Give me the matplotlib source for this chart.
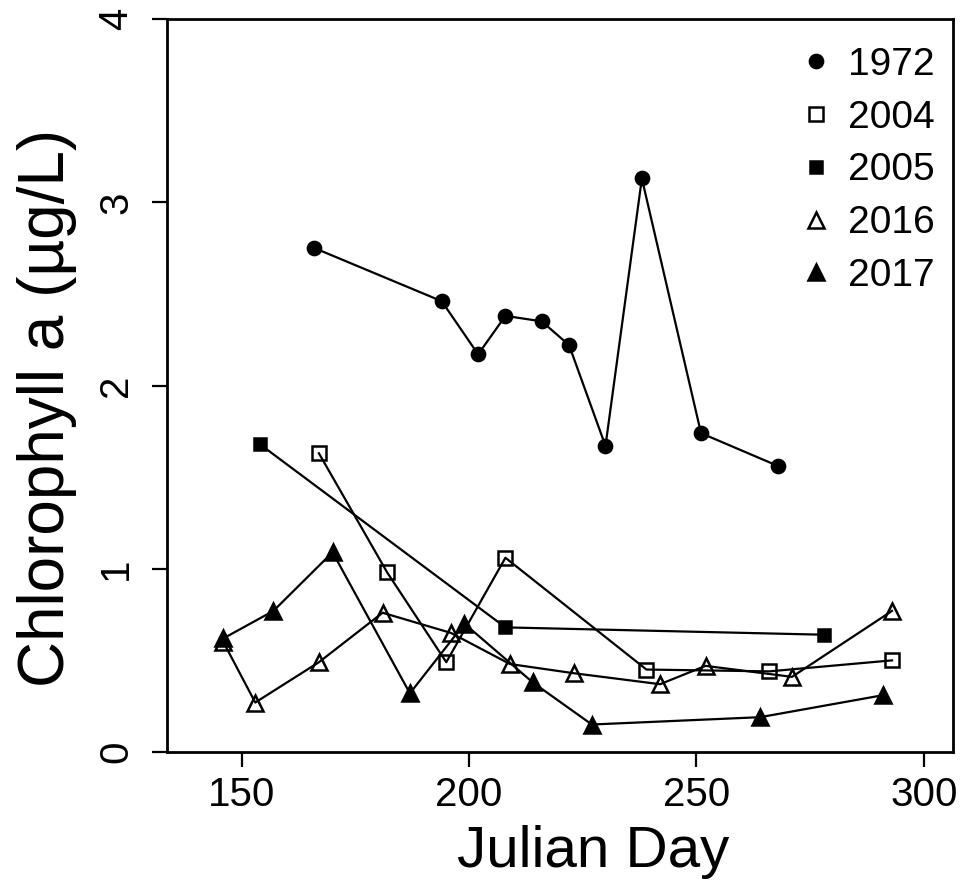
import matplotlib
matplotlib.use("Agg")
import matplotlib.pyplot as plt
from matplotlib.lines import Line2D

plt.rcParams['font.family'] = ['Liberation Sans', 'DejaVu Sans']

# Julian day and chlorophyll a values
day_1972 = [166, 194, 202, 208, 216, 222, 230, 238, 251, 268]
chl_1972 = [2.75, 2.46, 2.17, 2.38, 2.35, 2.22, 1.67, 3.13, 1.74, 1.56]

day_2004 = [167, 182, 195, 208, 239, 266, 293]
chl_2004 = [1.63, 0.98, 0.49, 1.06, 0.45, 0.44, 0.50]

day_2005 = [154, 208, 278]
chl_2005 = [1.68, 0.68, 0.64]

day_2016 = [146, 153, 167, 181, 196, 209, 223, 242, 252, 271, 293]
chl_2016 = [0.60, 0.27, 0.49, 0.76, 0.65, 0.48, 0.43, 0.37, 0.47, 0.41, 0.77]

day_2017 = [146, 157, 170, 187, 199, 214, 227, 264, 291]
chl_2017 = [0.62, 0.77, 1.09, 0.32, 0.70, 0.38, 0.15, 0.19, 0.31]

years = ['1972', '2004', '2005', '2016', '2017']
x_ticks = [150, 200, 250, 300]
y_ticks = [0, 1, 2, 3, 4]

fig = plt.figure(figsize=(9.64, 8.9), dpi=100)
ax = fig.add_axes([167/964, 1-752/890, (953-167)/964, (752-19)/890])

# (marker, size, filled)
styles = [('o', 9.5, True), ('s', 9.5, False), ('s', 9, True),
          ('^', 12, False), ('^', 11.5, True)]
series = [(day_1972, chl_1972), (day_2004, chl_2004), (day_2005, chl_2005),
          (day_2016, chl_2016), (day_2017, chl_2017)]

handles = []
for (x, y), (m, ms, filled), yr in zip(series, styles, years):
    fc = 'black' if filled else 'none'
    ax.plot(x, y, color='black', lw=1.6, marker=m, ms=ms,
            mfc=fc, mec='black', mew=1.8)
    handles.append(Line2D([], [], ls='none', marker=m, ms=ms,
                          mfc=fc, mec='black', mew=1.8, color='black'))

ax.set_xlim(133.6, 306.4)
ax.set_ylim(0, 4)
ax.set_xticks(x_ticks)
ax.set_yticks(y_ticks)
ax.tick_params(length=11, width=1.6, labelsize=29)
ax.tick_params(axis='x', pad=6)
ax.tick_params(axis='y', labelrotation=90, pad=12)
for lab in ax.get_yticklabels():
    lab.set_va('center')
for s in ax.spines.values():
    s.set_linewidth(2)

ax.set_xlabel('Julian Day', fontsize=42)
ax.xaxis.set_label_coords(0.542, -0.100)
ax.set_ylabel('Chlorophyll a (µg/L)', fontsize=46)
ax.yaxis.set_label_coords(-0.114, 0.47)

ax.legend(handles, years, loc='upper right', frameon=False, fontsize=28,
          handlelength=1.0, handletextpad=0.3, labelspacing=0.43,
          borderaxespad=0.0, bbox_to_anchor=(0.996, 0.983))

fig.savefig('out.png', dpi=100)
